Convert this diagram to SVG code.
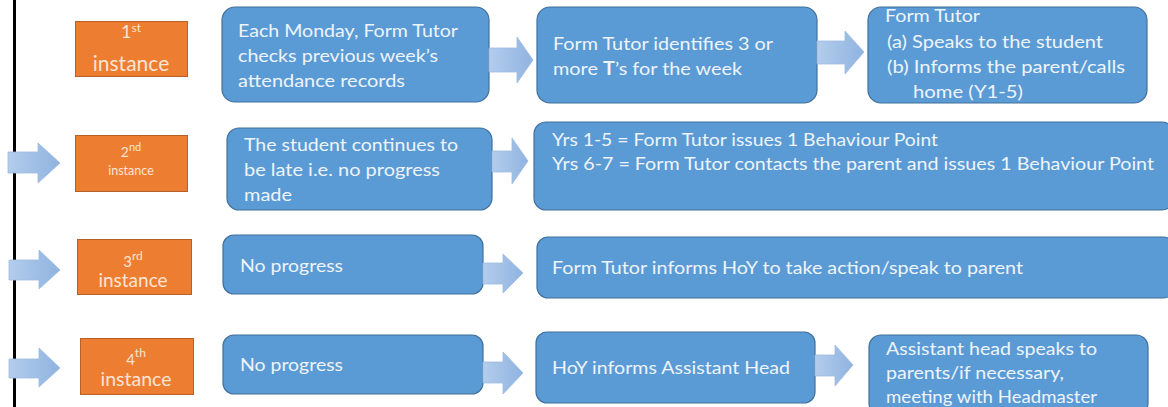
<svg xmlns="http://www.w3.org/2000/svg" width="1168" height="407" viewBox="0 0 1168 407">
<defs>
<linearGradient id="ag" x1="0" y1="0" x2="1" y2="0">
<stop offset="0" stop-color="#b3cdec"/>
<stop offset="1" stop-color="#8fb3e0"/>
</linearGradient>
<style>
.ob{fill:#ed7d31;stroke:#b5602a;stroke-width:1}
.bb{fill:#5b9bd5;stroke:#41719c;stroke-width:1.2}
.ot{font-family:Lato,"Liberation Sans",sans-serif;fill:#fbe4d5;text-anchor:middle}
.bt{font-family:Lato,"Liberation Sans",sans-serif;fill:#eef4fb;font-size:18px}
.ar{fill:url(#ag);stroke:#9dbbe2;stroke-width:0.8}
</style>
</defs>
<rect x="0" y="0" width="1168" height="407" fill="#ffffff"/>
<rect x="13" y="0" width="3" height="407" fill="#000000"/>

<g id="instance1">
<rect class="ob" x="75.5" y="21.5" width="112" height="55"/>
<text class="ot" x="131" y="38" font-size="18">1<tspan font-size="12" dy="-6">st</tspan></text>
<text class="ot" x="131" y="71" font-size="21">instance</text>
</g>
<g id="instance2">
<rect class="ob" x="75.5" y="135.5" width="112" height="56"/>
<text class="ot" x="131" y="157" font-size="14">2<tspan font-size="11" dy="-6">nd</tspan></text>
<text class="ot" x="131" y="175" font-size="12.5">instance</text>
</g>
<g id="instance3">
<rect class="ob" x="77.5" y="239.5" width="114" height="55"/>
<text class="ot" x="133" y="267" font-size="15">3<tspan font-size="12" dy="-7">rd</tspan></text>
<text class="ot" x="133" y="287" font-size="19">instance</text>
</g>
<g id="instance4">
<rect class="ob" x="80.5" y="338.5" width="113" height="56"/>
<text class="ot" x="136" y="365" font-size="15">4<tspan font-size="12" dy="-8">th</tspan></text>
<text class="ot" x="136" y="386" font-size="19.5">instance</text>
</g>

<g id="box1">
<rect class="bb" x="222" y="7" width="267" height="95" rx="13"/>
<text class="bt" x="238" y="37" textLength="220" lengthAdjust="spacingAndGlyphs">Each Monday, Form  Tutor</text>
<text class="bt" x="238" y="62" textLength="200" lengthAdjust="spacingAndGlyphs">checks previous week’s</text>
<text class="bt" x="238" y="87" textLength="167" lengthAdjust="spacingAndGlyphs">attendance records</text>
</g>
<g id="box2">
<rect class="bb" x="537" y="7" width="280" height="96" rx="13"/>
<text class="bt" x="553" y="50" textLength="220" lengthAdjust="spacingAndGlyphs">Form  Tutor identifies 3 or</text>
<text class="bt" x="553" y="75" textLength="189" lengthAdjust="spacingAndGlyphs">more <tspan font-weight="bold">T</tspan>’s for the  week</text>
</g>
<g id="box3">
<rect class="bb" x="868" y="7" width="279" height="96" rx="13"/>
<text class="bt" x="885" y="22" textLength="95" lengthAdjust="spacingAndGlyphs">Form  Tutor</text>
<text class="bt" x="887" y="48" textLength="216" lengthAdjust="spacingAndGlyphs">(a)  Speaks to the student</text>
<text class="bt" x="887" y="73" textLength="238" lengthAdjust="spacingAndGlyphs">(b)  Informs the parent/calls</text>
<text class="bt" x="913" y="98" textLength="110" lengthAdjust="spacingAndGlyphs">home (Y1-5)</text>
</g>
<g id="box4">
<rect class="bb" x="227" y="128" width="265" height="82" rx="12"/>
<text class="bt" x="244" y="151" textLength="214" lengthAdjust="spacingAndGlyphs">The student continues to</text>
<text class="bt" x="244" y="176" textLength="196" lengthAdjust="spacingAndGlyphs">be late i.e. no progress</text>
<text class="bt" x="244" y="201" textLength="48" lengthAdjust="spacingAndGlyphs">made</text>
</g>
<g id="box5">
<rect class="bb" x="534" y="122" width="640" height="88" rx="12"/>
<text class="bt" x="552" y="146" font-size="17" textLength="386" lengthAdjust="spacingAndGlyphs">Yrs 1-5 = Form  Tutor issues 1 Behaviour Point</text>
<text class="bt" x="552" y="170" font-size="17" textLength="602" lengthAdjust="spacingAndGlyphs">Yrs 6-7 = Form  Tutor contacts the parent and issues  1 Behaviour Point</text>
</g>
<g id="box6">
<rect class="bb" x="223" y="235" width="260" height="59" rx="11"/>
<text class="bt" x="240" y="272" textLength="103" lengthAdjust="spacingAndGlyphs">No progress</text>
</g>
<g id="box7">
<rect class="bb" x="537" y="237" width="637" height="61" rx="11"/>
<text class="bt" x="552" y="274" textLength="471" lengthAdjust="spacingAndGlyphs">Form  Tutor informs HoY to take action/speak to parent</text>
</g>
<g id="box8">
<rect class="bb" x="223" y="335" width="260" height="59" rx="11"/>
<text class="bt" x="240" y="371" textLength="103" lengthAdjust="spacingAndGlyphs">No progress</text>
</g>
<g id="box9">
<rect class="bb" x="536" y="332" width="279" height="71" rx="11"/>
<text class="bt" x="552" y="374" textLength="238" lengthAdjust="spacingAndGlyphs">HoY informs Assistant Head</text>
</g>
<g id="box10">
<rect class="bb" x="869" y="335" width="279" height="80" rx="12"/>
<text class="bt" x="886" y="355" textLength="211" lengthAdjust="spacingAndGlyphs">Assistant head speaks to</text>
<text class="bt" x="886" y="379" textLength="178" lengthAdjust="spacingAndGlyphs">parents/if necessary,</text>
<text class="bt" x="886" y="403" textLength="211" lengthAdjust="spacingAndGlyphs">meeting with  Headmaster</text>
</g>

<g id="connectors">
<polygon class="ar" points="8,152 38,152 38,143 60,163 38,183 38,173 8,173"/>
<polygon class="ar" points="9,260 39,260 39,250 60,270 39,289 39,280 9,280"/>
<polygon class="ar" points="9,359 39,359 39,348 60,368 39,387 39,378 9,378"/>
<polygon class="ar" points="489,48 517,48 517,37 533,60 517,83 517,72 489,72"/>
<polygon class="ar" points="817,41 845,41 845,31 864,52 845,74 845,64 817,64"/>
<polygon class="ar" points="492,151 512,151 512,138 528,161 512,184 512,172 492,172"/>
<polygon class="ar" points="483,263 503,263 503,254 523,273 503,293 503,284 483,284"/>
<polygon class="ar" points="483,362 503,362 503,352 523,373 503,394 503,383 483,383"/>
<polygon class="ar" points="815,355 835,355 835,345 853,365 835,386 835,376 815,376"/>
</g>
</svg>
